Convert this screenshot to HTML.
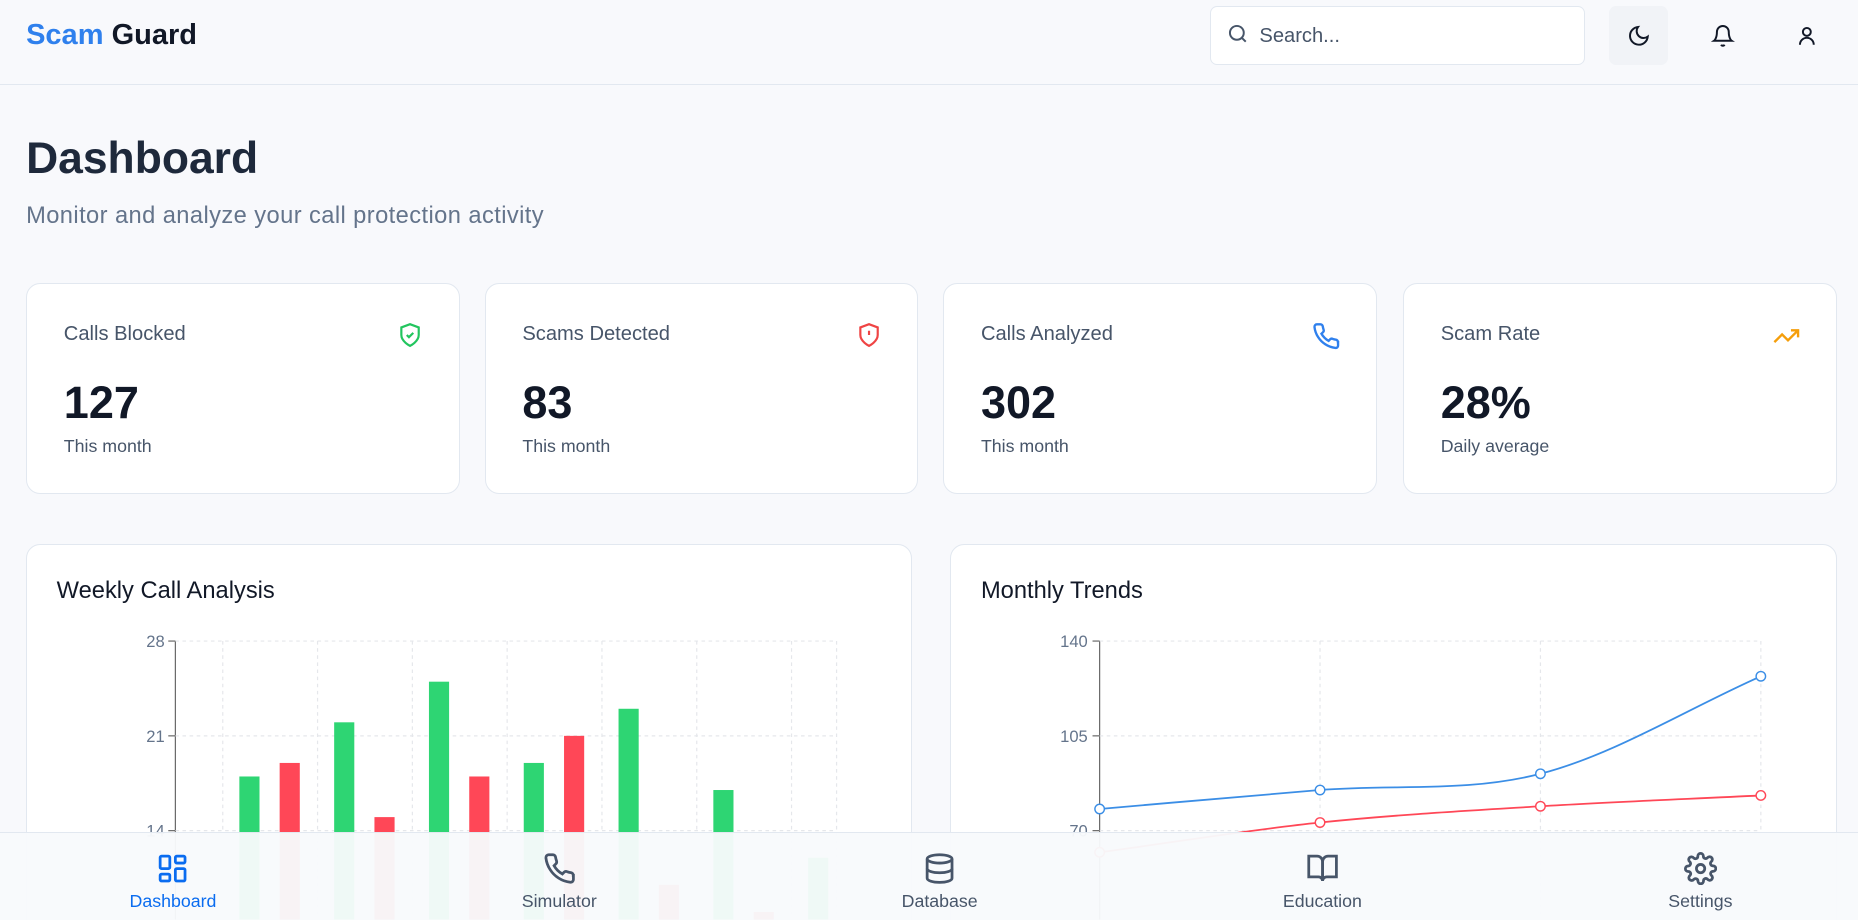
<!DOCTYPE html>
<html><head><meta charset="utf-8">
<style>
*{box-sizing:border-box;margin:0;padding:0}
html,body{width:1858px;height:920px;overflow:hidden;background:#f8f9fc;font-family:"Liberation Sans",sans-serif}
#w{zoom:1.18495;width:1568px;height:776px;position:relative;overflow:hidden;background:#f8f9fc}
.abs{position:absolute}
.card{position:absolute;background:#fff;border:1px solid #e2e8f0;border-radius:12px}
.lbl{position:absolute;left:31px;top:33px;font-size:17px;color:#475569}
.val{position:absolute;left:31px;top:78px;font-size:38px;font-weight:bold;color:#111827}
.sub{position:absolute;left:31px;top:128px;font-size:15px;color:#475569}
.ico{position:absolute;right:30px;top:32px}
.nav{position:absolute;top:0;text-align:center;font-size:15px;color:#475569;width:120px}
.nav svg{display:block;margin:16px auto 5px}
</style></head><body>
<div id="w">
<div class="abs" style="left:0;top:0;width:1568px;height:72px;border-bottom:1px solid #e2e8f0;background:#f8f9fc">
 <div class="abs" style="left:22px;top:16px;font-size:24.5px;font-weight:bold"><span style="color:#2f80ed">Scam</span> <span style="color:#111827">Guard</span></div>
 <div class="abs" style="left:1021px;top:5px;width:317px;height:50px;border:1px solid #e2e8f0;border-radius:6px;background:#fff">
  <svg class="abs" style="left:13px;top:13px" width="20" height="20" viewBox="0 0 24 24" fill="none" stroke="#475569" stroke-width="2"><circle cx="11" cy="11" r="7"/><path d="M20 20l-4-4"/></svg>
  <span class="abs" style="left:41px;top:15px;font-size:17px;color:#475569">Search...</span></div>
 <div class="abs" style="left:1358px;top:5px;width:50px;height:50px;border-radius:6px;background:#f1f3f7">
  <svg class="abs" style="left:15px;top:15px" width="20" height="20" viewBox="0 0 24 24" fill="none" stroke="#111827" stroke-width="2"><path d="M21 12.8A9 9 0 1 1 11.2 3 7 7 0 0 0 21 12.8z"/></svg></div>
 <svg class="abs" style="left:1444px;top:20px" width="20" height="20" viewBox="0 0 24 24" fill="none" stroke="#111827" stroke-width="2"><path d="M6 8a6 6 0 0 1 12 0c0 7 3 9 3 9H3s3-2 3-9"/><path d="M10.3 21a1.9 1.9 0 0 0 3.4 0"/></svg>
 <svg class="abs" style="left:1515px;top:20px" width="20" height="20" viewBox="0 0 24 24" fill="none" stroke="#111827" stroke-width="2"><circle cx="12" cy="8" r="4"/><path d="M5 21a7 7 0 0 1 14 0"/></svg>
</div>
<div class="abs" style="left:22px;top:113px;font-size:37.5px;font-weight:bold;color:#1e293b">Dashboard</div>
<div class="abs" style="left:22px;top:171px;font-size:20px;letter-spacing:0.35px;color:#64748b">Monitor and analyze your call protection activity</div>

<div class="card" style="left:22px;top:239px;width:366px;height:178px">
 <div class="lbl">Calls Blocked</div><div class="val">127</div><div class="sub">This month</div>
 <svg class="ico" width="22" height="22" viewBox="0 0 24 24" fill="none" stroke="#22c55e" stroke-width="2"><path d="M12 22s8-4 8-10V5l-8-3-8 3v7c0 6 8 10 8 10z"/><path d="M9 12l2 2 4-4"/></svg></div>
<div class="card" style="left:409px;top:239px;width:366px;height:178px">
 <div class="lbl">Scams Detected</div><div class="val">83</div><div class="sub">This month</div>
 <svg class="ico" width="22" height="22" viewBox="0 0 24 24" fill="none" stroke="#ef4444" stroke-width="2"><path d="M12 22s8-4 8-10V5l-8-3-8 3v7c0 6 8 10 8 10z"/><path d="M12 8v4M12 16h.01"/></svg></div>
<div class="card" style="left:796px;top:239px;width:366px;height:178px">
 <div class="lbl">Calls Analyzed</div><div class="val">302</div><div class="sub">This month</div>
 <svg class="ico" width="24" height="24" viewBox="0 0 24 24" fill="none" stroke="#2f80ed" stroke-width="2"><path d="M22 16.9v3a2 2 0 0 1-2.2 2 19.8 19.8 0 0 1-8.6-3.1 19.5 19.5 0 0 1-6-6A19.8 19.8 0 0 1 2.1 4.2 2 2 0 0 1 4.1 2h3a2 2 0 0 1 2 1.7c.1 1 .4 1.9.7 2.8a2 2 0 0 1-.5 2.1L8 9.9a16 16 0 0 0 6 6l1.3-1.3a2 2 0 0 1 2.1-.4c.9.3 1.8.6 2.8.7a2 2 0 0 1 1.7 2z"/></svg></div>
<div class="card" style="left:1184px;top:239px;width:366px;height:178px">
 <div class="lbl">Scam Rate</div><div class="val">28%</div><div class="sub">Daily average</div>
 <svg class="ico" width="24" height="24" viewBox="0 0 24 24" fill="none" stroke="#f59e0b" stroke-width="2"><path d="M22 7l-8.5 8.5-5-5L2 17"/><path d="M16 7h6v6"/></svg></div>

<div class="card" style="left:22px;top:459px;width:748px;height:330px">
 <div class="abs" style="left:25px;top:28px;font-size:20px;color:#111827">Weekly Call Analysis</div></div>
<div class="card" style="left:802px;top:459px;width:748px;height:330px">
 <div class="abs" style="left:25px;top:28px;font-size:20px;color:#111827">Monthly Trends</div></div>
<svg id="charts" class="abs" style="left:0;top:0" width="1568" height="776"></svg>

<div class="abs" style="left:0;top:702px;width:1568px;height:74px;background:rgba(248,250,252,0.96);border-top:1px solid #e2e8f0">
 <div class="nav" style="left:86px;color:#0a6cf0"><svg width="28" height="28" viewBox="0 0 24 24" fill="none" stroke="#0a6cf0" stroke-width="2"><rect x="3" y="3" width="7" height="9" rx="1"/><rect x="14" y="3" width="7" height="5" rx="1"/><rect x="14" y="12" width="7" height="9" rx="1"/><rect x="3" y="16" width="7" height="5" rx="1"/></svg>Dashboard</div>
 <div class="nav" style="left:412px"><svg width="28" height="28" viewBox="0 0 24 24" fill="none" stroke="#475569" stroke-width="2"><path d="M22 16.9v3a2 2 0 0 1-2.2 2 19.8 19.8 0 0 1-8.6-3.1 19.5 19.5 0 0 1-6-6A19.8 19.8 0 0 1 2.1 4.2 2 2 0 0 1 4.1 2h3a2 2 0 0 1 2 1.7c.1 1 .4 1.9.7 2.8a2 2 0 0 1-.5 2.1L8 9.9a16 16 0 0 0 6 6l1.3-1.3a2 2 0 0 1 2.1-.4c.9.3 1.8.6 2.8.7a2 2 0 0 1 1.7 2z"/></svg>Simulator</div>
 <div class="nav" style="left:733px"><svg width="28" height="28" viewBox="0 0 24 24" fill="none" stroke="#475569" stroke-width="2"><ellipse cx="12" cy="5" rx="9" ry="3"/><path d="M3 5v14c0 1.7 4 3 9 3s9-1.3 9-3V5"/><path d="M3 12c0 1.7 4 3 9 3s9-1.3 9-3"/></svg>Database</div>
 <div class="nav" style="left:1056px"><svg width="28" height="28" viewBox="0 0 24 24" fill="none" stroke="#475569" stroke-width="2"><path d="M2 3h6a4 4 0 0 1 4 4v14a3 3 0 0 0-3-3H2z"/><path d="M22 3h-6a4 4 0 0 0-4 4v14a3 3 0 0 1 3-3h7z"/></svg>Education</div>
 <div class="nav" style="left:1375px"><svg width="28" height="28" viewBox="0 0 24 24" fill="none" stroke="#475569" stroke-width="2"><circle cx="12" cy="12" r="3"/><path d="M19.4 15a1.7 1.7 0 0 0 .3 1.8l.1.1a2 2 0 1 1-2.8 2.8l-.1-.1a1.7 1.7 0 0 0-1.8-.3 1.7 1.7 0 0 0-1 1.5V21a2 2 0 1 1-4 0v-.1a1.7 1.7 0 0 0-1.1-1.5 1.7 1.7 0 0 0-1.8.3l-.1.1a2 2 0 1 1-2.8-2.8l.1-.1a1.7 1.7 0 0 0 .3-1.8 1.7 1.7 0 0 0-1.5-1H3a2 2 0 1 1 0-4h.1a1.7 1.7 0 0 0 1.5-1.1 1.7 1.7 0 0 0-.3-1.8l-.1-.1a2 2 0 1 1 2.8-2.8l.1.1a1.7 1.7 0 0 0 1.8.3H9a1.7 1.7 0 0 0 1-1.5V3a2 2 0 1 1 4 0v.1a1.7 1.7 0 0 0 1 1.5 1.7 1.7 0 0 0 1.8-.3l.1-.1a2 2 0 1 1 2.8 2.8l-.1.1a1.7 1.7 0 0 0-.3 1.8V9a1.7 1.7 0 0 0 1.5 1H21a2 2 0 1 1 0 4h-.1a1.7 1.7 0 0 0-1.5 1z"/></svg>Settings</div>
</div>
</div>
<script>
const days=['Mon','Tue','Wed','Thu','Fri','Sat','Sun'];
const greenVals=[18,22,25,19,23,17,12];
const redVals=[19,15,18,21,10,8,6];
const barTicks=[28,21,14];
const months=['Jan','Feb','Mar','Apr'];
const blueVals=[78,85,91,127];
const redLineVals=[62,73,79,83];
const lineTicks=[140,105,70];
const NS='http://www.w3.org/2000/svg';
const svg=document.getElementById('charts');
const BOT=776;
function mk(t,a){const e=document.createElementNS(NS,t);for(const k in a)e.setAttribute(k,a[k]);svg.appendChild(e);return e;}
const by=v=>541+(28-v)*80/7;
const bx=i=>188+i*80;
mk('line',{x1:148,y1:541,x2:148,y2:BOT,stroke:'#666'});
barTicks.forEach(t=>{const g=mk('line',{x1:148,y1:by(t),x2:706,y2:by(t),stroke:'#e5e7eb','stroke-dasharray':'3 3'});

mk('line',{x1:142,y1:by(t),x2:148,y2:by(t),stroke:'#666'});
const tx=mk('text',{x:139,y:by(t)+5,'text-anchor':'end','font-size':14,fill:'#64748b','font-family':'Liberation Sans'});tx.textContent=t;
});
days.forEach((d,i)=>{const g=mk('line',{x1:bx(i),y1:541,x2:bx(i),y2:BOT,stroke:'#e5e7eb','stroke-dasharray':'3 3'});});
mk('line',{x1:706,y1:541,x2:706,y2:BOT,stroke:'#e5e7eb','stroke-dasharray':'3 3'});
days.forEach((d,i)=>{
 const g=mk('rect',{x:bx(i)+14,y:by(greenVals[i]),width:17,height:Math.max(0,BOT-by(greenVals[i])),fill:'#2ed573'});
 
 const r=mk('rect',{x:bx(i)+48,y:by(redVals[i]),width:17,height:Math.max(0,BOT-by(redVals[i])),fill:'#ff4757'});
 
});
const ly=v=>541+(140-v)*80/35;
const lx=i=>928+i*186;
mk('line',{x1:928,y1:541,x2:928,y2:BOT,stroke:'#666'});
lineTicks.forEach(t=>{const g=mk('line',{x1:928,y1:ly(t),x2:1486,y2:ly(t),stroke:'#e5e7eb','stroke-dasharray':'3 3'});
mk('line',{x1:922,y1:ly(t),x2:928,y2:ly(t),stroke:'#666'});
const tx=mk('text',{x:918,y:ly(t)+5,'text-anchor':'end','font-size':14,fill:'#64748b','font-family':'Liberation Sans'});tx.textContent=t;
});
months.forEach((m,i)=>{if(i>0)mk('line',{x1:lx(i),y1:541,x2:lx(i),y2:BOT,stroke:'#e5e7eb','stroke-dasharray':'3 3'});});
function mono(pts){const n=pts.length,d=[],m=[];for(let i=0;i<n-1;i++)d.push((pts[i+1][1]-pts[i][1])/(pts[i+1][0]-pts[i][0]));
m[0]=d[0];m[n-1]=d[n-2];for(let i=1;i<n-1;i++)m[i]=d[i-1]*d[i]<=0?0:(d[i-1]+d[i])/2;
let s='M'+pts[0][0]+','+pts[0][1];for(let i=0;i<n-1;i++){const h=(pts[i+1][0]-pts[i][0])/3;
s+=' C'+(pts[i][0]+h)+','+(pts[i][1]+m[i]*h)+' '+(pts[i+1][0]-h)+','+(pts[i+1][1]-m[i+1]*h)+' '+pts[i+1][0]+','+pts[i+1][1];}return s;}
[[blueVals,'#3b8ee6','calls'],[redLineVals,'#ff4757','scams']].forEach(([vals,c,n])=>{
 const p=mk('path',{d:mono(vals.map((v,i)=>[lx(i),ly(v)])),fill:'none',stroke:c,'stroke-width':1.5});
 
 vals.forEach((v,i)=>{const ci=mk('circle',{cx:lx(i),cy:ly(v),r:4,fill:'#fff',stroke:c,'stroke-width':1.2});
 });
});
</script>
</body></html>
